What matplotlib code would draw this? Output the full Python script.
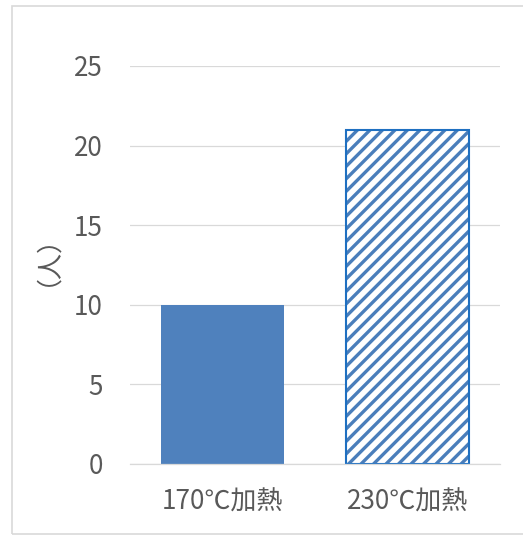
import matplotlib.pyplot as plt
from matplotlib.patches import Rectangle

plt.rcParams['font.family'] = ['Noto Sans CJK JP', 'DejaVu Sans']
plt.rcParams['hatch.linewidth'] = 3.2

categories = ["170℃加熱", "230℃加熱"]
people = [10, 21]
y_ticks = [0, 5, 10, 15, 20, 25]

DPI = 75
fig = plt.figure(figsize=(523 / DPI, 538 / DPI), dpi=DPI)
ax = fig.add_axes([130 / 523, 1 - 464 / 538, 370 / 523, 398 / 538])

x = range(len(categories))
# solid bar for the first group, hatched bar (plus outline) for the second
ax.bar(x[0], people[0], width=0.66, color="#4F81BD", edgecolor="none")
ax.bar(x[1], people[1], width=0.66, color="white", edgecolor="#4A7EBB",
       hatch="//", linewidth=0)
ax.bar(x[1], people[1], width=0.66, fill=False, edgecolor="#1F70C1",
       linewidth=2.0)

ax.set_xlim(-0.5, 1.5)
ax.set_ylim(0, 25)
ax.set_yticks(y_ticks)
ax.set_xticks(list(x))
ax.set_xticklabels(categories, fontsize=25)
ax.grid(axis="y", color="#d9d9d9", linewidth=1.2)
ax.set_axisbelow(True)
for side in ["top", "right", "left"]:
    ax.spines[side].set_visible(False)
ax.spines["bottom"].set_color("#d9d9d9")
ax.spines["bottom"].set_linewidth(1.2)
ax.tick_params(axis="both", length=0, colors="#595959")
ax.tick_params(axis="y", labelsize=25, pad=26)
ax.tick_params(axis="x", pad=24)

# axis unit, written vertically left of the tick labels
fig.text(34 / 523, 1 - 247 / 538, "（人）", rotation=90, fontsize=25,
         color="#595959", ha="center", va="center")

# light frame around the whole chart
fig.patches.append(Rectangle((12 / 523, 1 - 534 / 538), 530 / 523, 528 / 538,
                             transform=fig.transFigure, fill=False,
                             edgecolor="#d9d9d9", linewidth=1.6))

fig.savefig("out.png", dpi=DPI)
